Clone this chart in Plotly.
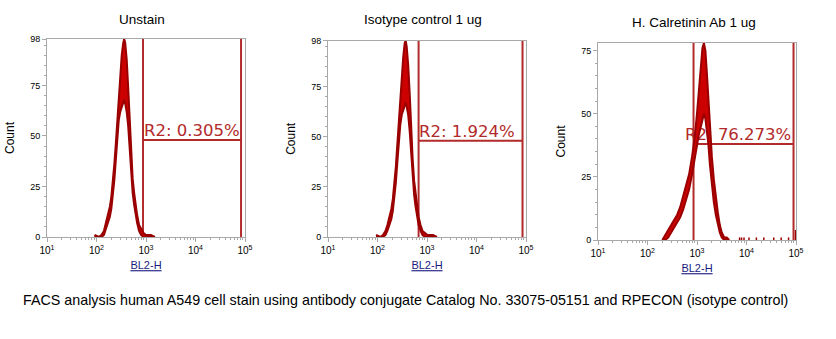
import plotly.graph_objects as go

# ---------------- data ----------------
titles = ["Unstain", "Isotype control 1 ug", "H. Calretinin Ab 1 ug"]
caption = ("FACS analysis human A549 cell stain using antibody conjugate "
           "Catalog No. 33075-05151 and RPECON (isotype control)")
x_label = "BL2-H"
y_label = "Count"
gate_labels = ["R2: 0.305%", "R2: 1.924%", "R2: 76.273%"]

# log10 fluorescence channel, upper/lower envelope of the jagged histogram
unstain_log = [1.96, 2.05, 2.10, 2.15, 2.19, 2.23, 2.27, 2.30, 2.33, 2.36, 2.39, 2.42, 2.45,
               2.48, 2.51, 2.54, 2.56, 2.58, 2.61, 2.64, 2.67, 2.70, 2.73, 2.76, 2.79, 2.82,
               2.86, 2.90, 2.95, 3.00, 3.05, 3.10, 3.18]
unstain_hi = [1, 0, 1, 3, 7, 11, 15, 20, 27, 36, 46, 58, 70, 80, 90, 96, 98, 96, 88, 74, 56,
              40, 29, 22, 16, 11, 6, 4, 2, 1, 1, 1, 0]
unstain_lo = [0, 0, 0, 1, 4, 7, 10, 14, 20, 28, 38, 48, 58, 62, 64, 66, 68, 66, 62, 55, 44,
              32, 22, 16, 11, 7, 3, 1, 0, 0, 0, 0, 0]

iso_log = [1.97, 2.06, 2.11, 2.16, 2.20, 2.24, 2.28, 2.31, 2.34, 2.37, 2.40, 2.43, 2.46,
           2.49, 2.52, 2.55, 2.57, 2.59, 2.62, 2.65, 2.68, 2.71, 2.74, 2.77, 2.80, 2.83,
           2.87, 2.91, 2.96, 3.01, 3.06, 3.12, 3.20]
iso_hi = [1, 0, 1, 3, 6, 10, 14, 19, 26, 35, 46, 58, 68, 79, 90, 97, 98, 95, 86, 72, 54,
          39, 28, 21, 15, 10, 6, 3, 2, 1, 1, 1, 0]
iso_lo = [0, 0, 0, 1, 3, 6, 9, 13, 19, 27, 37, 47, 56, 61, 63, 65, 67, 65, 61, 53, 42,
          31, 21, 15, 10, 6, 3, 1, 0, 0, 0, 0, 0]

calr_log = [2.30, 2.36, 2.42, 2.48, 2.54, 2.60, 2.66, 2.72, 2.78, 2.84, 2.90, 2.95, 3.00,
            3.04, 3.08, 3.11, 3.14, 3.17, 3.20, 3.23, 3.26, 3.30, 3.34, 3.38, 3.42, 3.46,
            3.50, 3.55, 3.60, 3.65]
calr_hi = [0, 2, 4, 6, 8, 10, 13, 17, 21, 26, 33, 40, 50, 60, 70, 76, 78, 75, 66, 55, 44,
           33, 24, 16, 11, 6, 3, 1, 1, 0]
calr_lo = [0, 0, 1, 3, 5, 7, 9, 12, 16, 20, 26, 32, 38, 42, 45, 48, 50, 48, 44, 38, 30,
           22, 15, 10, 6, 3, 1, 0, 0, 0]
# sparse events in the high tail (log channel, count)
calr_tail_log = [3.86, 3.90, 3.95, 4.05, 4.20, 4.35, 4.55, 4.70, 4.85, 4.99]
calr_tail_cnt = [1, 1, 1, 1, 1, 1, 1, 1, 1, 4]

# gate R2: lower / upper bound (log10) and marker height (count)
gate_lo = [2.94, 2.83, 2.93]
gate_hi = [4.92, 4.93, 4.95]
gate_level = [48, 48, 38]

y_max = [98, 98, 78]
y_ticks = [[0, 25, 50, 75, 98], [0, 25, 50, 75, 98], [0, 25, 50, 75]]
x_tick_exp = [1, 2, 3, 4, 5]

# ---------------- style / layout ----------------
W, H = 836, 339
panels_px = [  # x0, x1, ytop, ybottom in pixels
    (47, 245, 39, 237),
    (328, 526, 40.7, 237),
    (598, 796, 43, 240),
]
label_start = [2.96, 2.84, 2.76]  # where the gate labels start (log10)
title_px = [(142, 20), (422.5, 19), (693.5, 22)]

HIST_EDGE = "#9a0000"
HIST_FILL = "#cc0000"
GATE = "#b22a2a"
AXIS = "#a8a8a8"
FONT = "Liberation Sans, Arial, sans-serif"

fig = go.Figure()

hists = [(unstain_log, unstain_hi, unstain_lo),
         (iso_log, iso_hi, iso_lo),
         (calr_log, calr_hi, calr_lo)]

for i in range(3):
    xa = "x" if i == 0 else f"x{i+1}"
    ya = "y" if i == 0 else f"y{i+1}"
    x0p, x1p, ytp, ybp = panels_px[i]

    # gate lines
    glo, ghi, glev = 10 ** gate_lo[i], 10 ** gate_hi[i], gate_level[i]
    fig.add_trace(go.Scatter(
        x=[glo, glo, None, ghi, ghi, None, glo, ghi],
        y=[0, y_max[i], None, 0, y_max[i], None, glev, glev],
        mode="lines", line=dict(color=GATE, width=2),
        xaxis=xa, yaxis=ya, showlegend=False, hoverinfo="skip"))
    # gate label
    fig.add_trace(go.Scatter(
        x=[10 ** label_start[i]], y=[glev], mode="text",
        text=[gate_labels[i]], textposition="top right",
        textfont=dict(family="DejaVu Sans, Verdana, sans-serif", size=16.5, color=GATE),
        xaxis=xa, yaxis=ya, showlegend=False, hoverinfo="skip"))

    lg, hi, lo = hists[i]
    xs = [10 ** v for v in lg]
    fig.add_trace(go.Scatter(
        x=xs, y=lo, mode="lines", line=dict(color=HIST_EDGE, width=2),
        xaxis=xa, yaxis=ya, showlegend=False, hoverinfo="skip"))
    fig.add_trace(go.Scatter(
        x=xs, y=hi, mode="lines", line=dict(color=HIST_EDGE, width=2),
        fill="tonexty", fillcolor=HIST_FILL,
        xaxis=xa, yaxis=ya, showlegend=False, hoverinfo="skip"))

    if i == 2:
        tx, ty = [], []
        for lv, c in zip(calr_tail_log, calr_tail_cnt):
            tx += [10 ** lv, 10 ** lv, None]
            ty += [0, c, None]
        fig.add_trace(go.Scatter(
            x=tx, y=ty, mode="lines", line=dict(color=HIST_EDGE, width=1.5),
            xaxis=xa, yaxis=ya, showlegend=False, hoverinfo="skip"))

    minor_x = [m * 10 ** k for k in range(1, 5) for m in range(2, 10)]
    xaxis_cfg = dict(
        type="log", range=[1, 5], automargin=False,
        domain=[x0p / W, x1p / W], anchor=ya,
        showline=True, linecolor=AXIS, linewidth=1, mirror=True,
        showgrid=False, zeroline=False,
        tickmode="array", tickvals=[10 ** e for e in x_tick_exp],
        ticktext=[f"10<sup>{e}</sup>" for e in x_tick_exp],
        ticks="outside", ticklen=4, tickcolor=AXIS,
        tickfont=dict(family=FONT, size=10, color="#000"),
        minor=dict(tickmode="array", tickvals=minor_x, ticks="outside",
                   ticklen=2, tickcolor=AXIS, showgrid=False),
        title=dict(text=f"<u>{x_label}</u>", standoff=6,
                   font=dict(family=FONT, size=11, color="#1a1a80")),
    )
    yaxis_cfg = dict(
        range=[0, y_max[i]], automargin=False,
        domain=[1 - ybp / H, 1 - ytp / H], anchor=xa,
        showline=True, linecolor=AXIS, linewidth=1, mirror=True,
        showgrid=False, zeroline=False,
        tickmode="array", tickvals=y_ticks[i],
        ticktext=[str(v) for v in y_ticks[i]],
        ticks="outside", ticklen=4, tickcolor=AXIS,
        tickfont=dict(family=FONT, size=9, color="#000"),
        minor=dict(dtick=5, tick0=0, ticks="outside", ticklen=2,
                   tickcolor=AXIS, showgrid=False),
        title=dict(text=y_label, standoff=12,
                   font=dict(family=FONT, size=12, color="#000")),
    )
    fig.update_layout(**{("xaxis" if i == 0 else f"xaxis{i+1}"): xaxis_cfg,
                         ("yaxis" if i == 0 else f"yaxis{i+1}"): yaxis_cfg})

    tx_, ty_ = title_px[i]
    fig.add_annotation(x=tx_ / W, y=1 - ty_ / H, xref="paper", yref="paper",
                       text=titles[i], showarrow=False, xanchor="center", yanchor="middle",
                       font=dict(family=FONT, size=13.5, color="#000"))

fig.add_annotation(x=405 / W, y=1 - 300 / H, xref="paper", yref="paper",
                   text=caption, showarrow=False, xanchor="center", yanchor="middle",
                   font=dict(family=FONT, size=14.3, color="#000"))

fig.update_layout(width=W, height=H, margin=dict(l=0, r=0, t=0, b=0),
                  paper_bgcolor="white", plot_bgcolor="white")

fig.write_html("out.html")
